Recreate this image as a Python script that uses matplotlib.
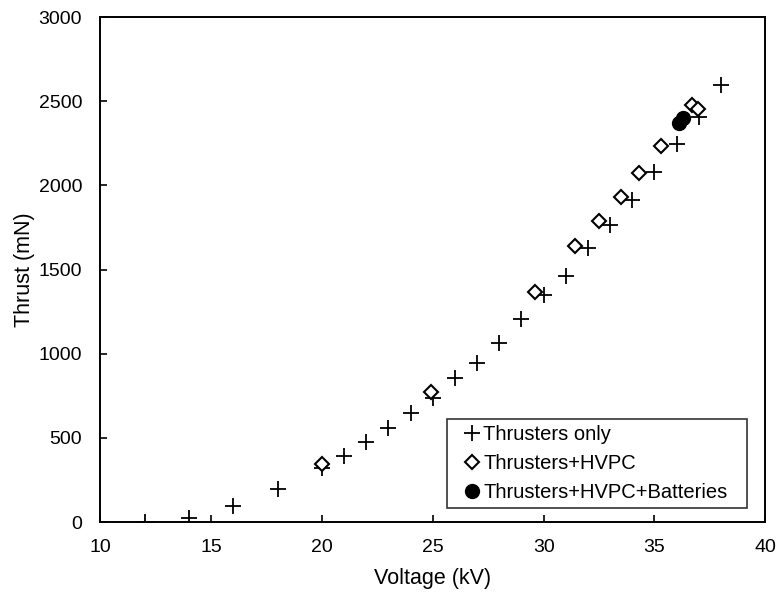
import matplotlib.pyplot as plt
from matplotlib.path import Path

plt.rcParams['font.family'] = ['Liberation Sans', 'DejaVu Sans']

# Thrusters only
v_only = [12, 14, 16, 18, 20, 21, 22, 23, 24, 25, 26, 27, 28, 29, 30, 31, 32, 33, 34, 35, 36, 37, 38]
t_only = [0, 25, 95, 195, 320, 395, 478, 560, 648, 735, 855, 948, 1063, 1208, 1350, 1463, 1627, 1768, 1915, 2078, 2245, 2405, 2595]

# Thrusters + HVPC
v_hvpc = [20.0, 24.9, 29.6, 31.4, 32.5, 33.5, 34.3, 35.3, 36.7, 36.95]
t_hvpc = [343, 775, 1365, 1642, 1787, 1932, 2075, 2232, 2478, 2452]

# Thrusters + HVPC + Batteries
v_batt = [36.1, 36.3]
t_batt = [2370, 2402]


def wide_box(x0, y0, width, height, mutation_size):
    # legend frame with extra room left and right only
    dx = 0.65 * mutation_size
    x0, x1 = x0 - dx, x0 + width + dx
    y1 = y0 + height
    return Path([(x0, y0), (x1, y0), (x1, y1), (x0, y1), (x0, y0)], closed=True)


fig = plt.figure(figsize=(7.77, 5.92), dpi=100)
ax = fig.add_axes([0.129, 0.118, 0.856, 0.853])

ax.plot(v_only, t_only, linestyle='none', marker='+', markersize=11,
        markeredgewidth=1.3, color='black', label='Thrusters only')
ax.plot(v_hvpc, t_hvpc, linestyle='none', marker='D', markersize=7,
        markeredgewidth=1.5, markerfacecolor='white', color='black',
        label='Thrusters+HVPC')
ax.plot(v_batt, t_batt, linestyle='none', marker='o', markersize=10,
        color='black', label='Thrusters+HVPC+Batteries')

ax.set_xlim(10, 40)
ax.set_ylim(0, 3000)
ax.set_xticks([10, 15, 20, 25, 30, 35, 40])
ax.set_yticks([0, 500, 1000, 1500, 2000, 2500, 3000])
ax.tick_params(direction='in', labelsize=14, length=5, width=1.2)
ax.tick_params(axis='x', pad=12)
ax.tick_params(axis='y', pad=13)
for s in ax.spines.values():
    s.set_linewidth(1.4)

ax.set_xlabel('Voltage (kV)', fontsize=15.5, labelpad=9)
ax.set_ylabel('Thrust (mN)', fontsize=15.5, labelpad=3)

leg = ax.legend(loc='lower right', bbox_to_anchor=(0.952, 0.028),
                fontsize=14.5, frameon=True, fancybox=False,
                edgecolor='black', handlelength=0.6, handletextpad=0.25,
                borderaxespad=0, labelspacing=0.5, borderpad=0.29)
leg.get_frame().set_boxstyle(wide_box)
leg.get_frame().set_linewidth(1.2)

plt.savefig('out.png')
